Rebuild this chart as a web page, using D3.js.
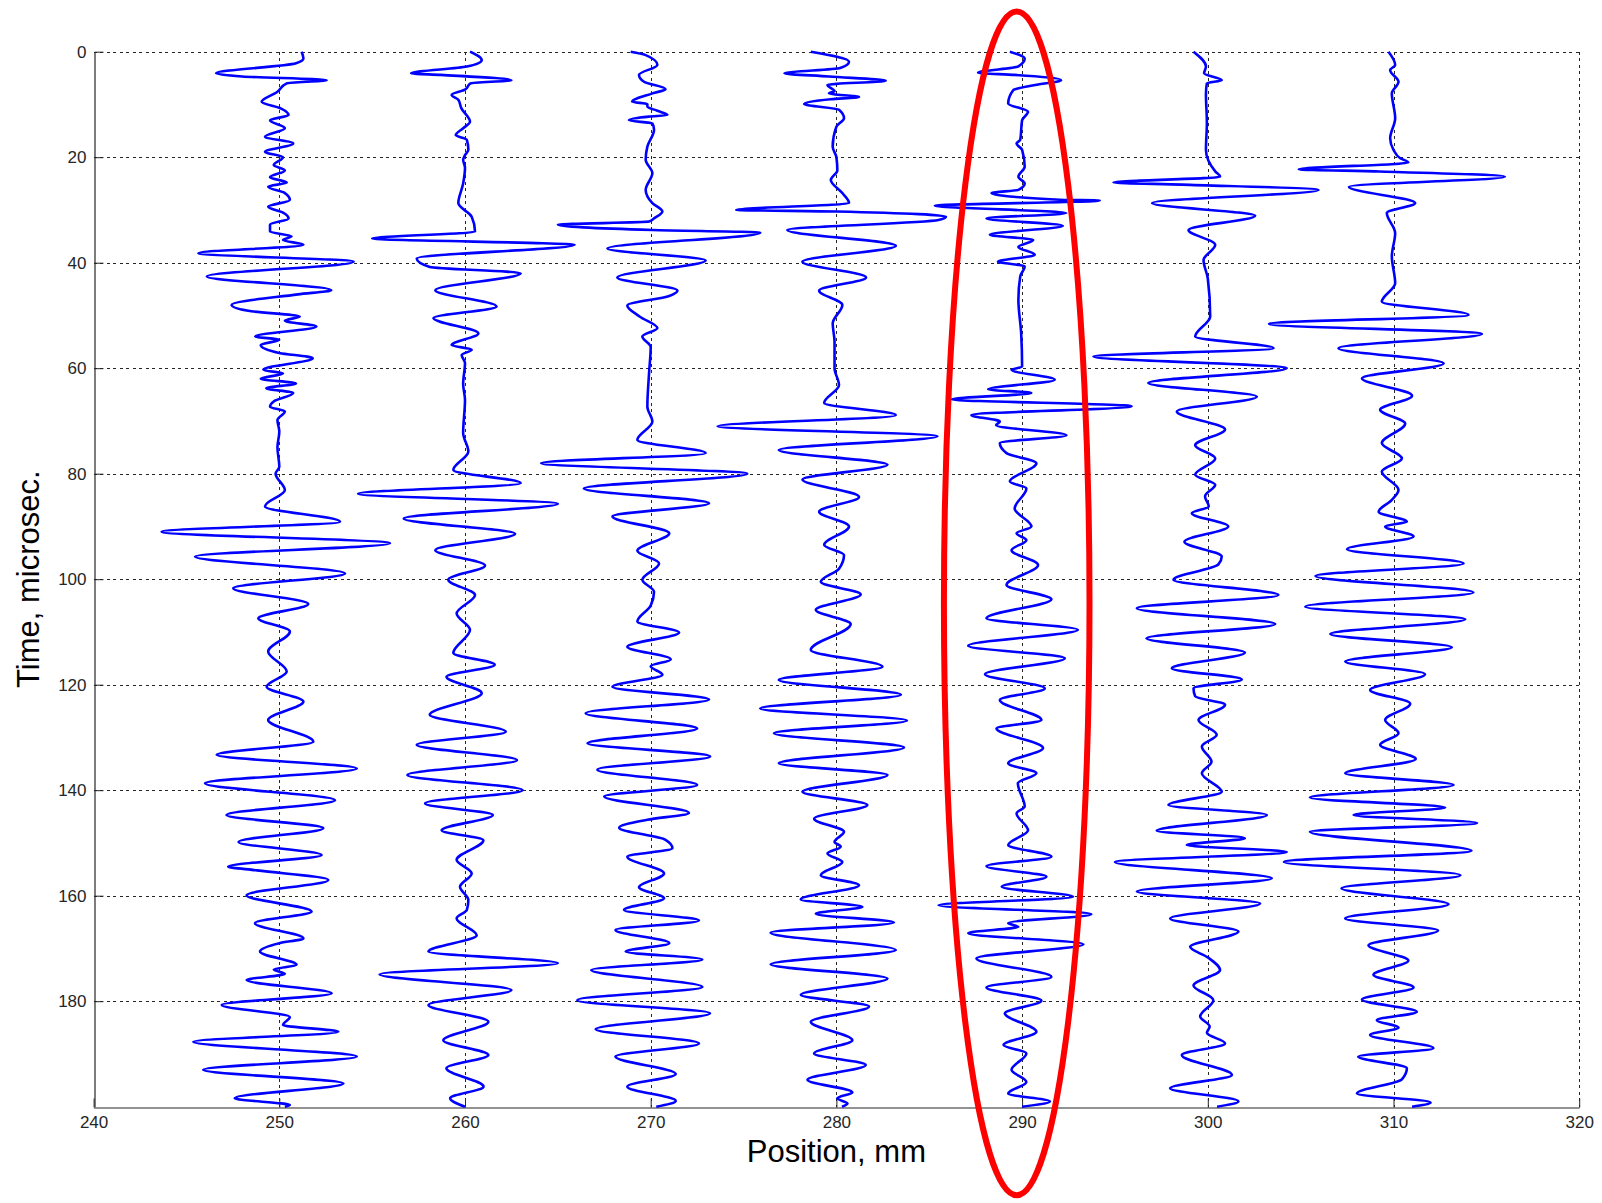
<!DOCTYPE html>
<html>
<head>
<meta charset="utf-8">
<script src="https://cdn.jsdelivr.net/npm/d3@7"></script>
<style>
  html, body { margin: 0; padding: 0; background: #fff; }
  svg { display: block; }
  text { font-family: "Liberation Sans", Arial, sans-serif; }
</style>
</head>
<body>
<svg id="chart" width="1602" height="1203"></svg>
<script>
// ---------- data (time in microseconds, offset in mm from the trace position) ----------
const xTicks = [240, 250, 260, 270, 280, 290, 300, 310, 320];
const yTicks = [0, 20, 40, 60, 80, 100, 120, 140, 160, 180];
const xLabel = "Position, mm";
const yLabel = "Time, microsec.";
const positions = [250, 260, 270, 280, 290, 300, 310];

const trace250 = [[0,1.2],[1.3,1.3],[2.2,0.9],[4.1,-3.4],[4.7,-2.0],[5.4,2.55],[6.0,0.4],[7.6,-0.1],[9.5,-0.95],[10.8,0.1],[12,0.5],[13,-0.5],[14.5,0.3],[16.1,-0.77],[17.4,0.75],[19,-0.77],[20,0.2],[21.5,-0.3],[22.5,0.3],[23.8,-0.5],[24.8,0.4],[25.6,-0.6],[26.8,0.3],[28.1,0.57],[29.4,-0.6],[30.5,0.2],[31.6,0.5],[32.8,-0.5],[34.1,-0.5],[35,0.66],[35.7,0.2],[36.6,1.3],[38.2,-4.36],[39.8,4.0],[42.6,-3.9],[45.2,2.8],[46.0,1.0],[48,-2.57],[49.2,-1.5],[50.2,1.1],[51,0.3],[52.1,2.0],[54,-1.3],[54.6,0],[55.6,-1.0],[57.1,0],[58.1,1.8],[60.3,-0.86],[61,0.2],[62,-1.0],[62.9,0.9],[63.8,-0.7],[64.7,0.75],[66.3,-0.3],[67.3,-0.5],[68.2,0.3],[69.8,-0.1],[72,0],[75,-0.1],[78.7,0],[80,-0.2],[83.1,0.3],[86.2,-0.77],[89.1,3.27],[91,-6.34],[93.2,5.96],[95.7,-4.54],[98.9,3.54],[101.7,-2.48],[104.7,1.56],[107.4,-1.13],[109.9,0.57],[113.7,-0.6],[117.5,0.4],[120.4,-0.68],[123.2,1.3],[126.7,-0.6],[130.8,1.83],[133.3,-3.37],[135.9,4.17],[138.7,-4.0],[141.9,3.0],[144.7,-2.84],[147.2,2.37],[149.8,-2.2],[152.3,2.28],[154.5,-2.75],[155.2,-1.2],[157,2.64],[159.9,-1.76],[163,1.74],[165.2,-1.31],[168.1,1.3],[169,0],[170.6,-1.04],[173.1,0.93],[174,-0.3],[174.8,0.3],[176,-1.76],[178.5,2.82],[180.7,-3.1],[183,0.57],[184.5,0.2],[185.8,3.18],[187.7,-4.63],[190.5,4.17],[193,-4.1],[195.6,3.45],[198.4,-2.4],[199.7,0.57],[200,0.3]];

const trace260 = [[0,0.27],[1.6,0.9],[2.8,0.1],[4.1,-2.9],[4.4,-1.3],[5.4,2.5],[6.0,0.3],[7.2,0],[8.2,-0.72],[9.1,-0.36],[10.7,-0.2],[13.3,0.27],[14.5,-0.1],[15.8,-0.5],[16.7,0.1],[18.6,0.18],[19.6,0],[20.5,-0.1],[22,0],[25,-0.1],[28.7,-0.36],[31.3,0.36],[34.1,0.54],[35.4,-5.0],[36.6,5.9],[39.2,-2.6],[40.8,-1.9],[42,3.0],[45.2,-1.6],[48.3,1.7],[50.5,-1.7],[53.4,0.72],[55.6,-0.72],[56.5,0.36],[57.5,-0.18],[59,0],[63,-0.1],[66,0],[72.3,-0.1],[75.8,0.18],[79.3,-0.63],[81.8,3.0],[83.8,-5.76],[85.7,5.0],[88.5,-3.3],[91.4,2.7],[94.5,-1.6],[97.4,1.08],[100.1,-0.9],[103,0.54],[106.5,-0.45],[109.6,0.27],[114,-0.63],[116.2,1.6],[118.5,-1.0],[121.6,0.9],[125.7,-1.9],[128.9,2.2],[131.4,-2.6],[134.3,2.8],[137.1,-3.1],[140,3.1],[142.5,-2.15],[144.7,1.5],[147.6,-1.26],[149.5,0.99],[153.2,-0.45],[155.8,0.36],[158.3,-0.27],[160.8,0.18],[162.7,0.1],[164.3,-0.45],[167.5,0.63],[170.6,-1.97],[172.8,5.0],[174.9,-4.6],[177.9,2.5],[180.7,-1.97],[183.9,1.26],[187.4,-1.17],[190.2,1.26],[192.7,-1.0],[196.2,1.0],[198.4,-0.8],[200,0]];

const trace270 = [[0,-1.08],[0.6,-0.3],[2.5,0.36],[4.4,-0.63],[5.7,-0.36],[7.1,0.8],[7.9,0.1],[9.5,-1.0],[9.9,-0.18],[10.4,-0.18],[11.2,0.36],[12,0.9],[12.3,-0.1],[13,-1.17],[13.6,0.09],[14.8,0.18],[18,-0.18],[20.5,-0.27],[23,0.09],[26.2,-0.27],[28.7,0.09],[30.3,0.63],[31.6,0.18],[32.2,-0.09],[32.8,-5.0],[33.8,0.09],[34.3,5.9],[37.3,-2.33],[39.6,2.96],[42.8,-1.8],[45.3,1.44],[46.3,1.0],[48.1,-1.26],[50.2,-0.6],[52.4,0.36],[54,-0.45],[56,0],[61,-0.09],[67.3,-0.18],[70.1,0.09],[73.6,-0.72],[76.1,2.96],[78,-5.9],[80,5.2],[82.8,-3.6],[85.6,3.14],[88.1,-2.06],[91.3,1.0],[94.6,-0.72],[97,0.45],[100.1,-0.45],[102.4,0.18],[105,0],[108,-0.72],[110.1,1.53],[112.8,-1.26],[115.2,1.08],[116.5,0],[118.1,0.63],[120.4,-2.06],[122.8,3.14],[125.4,-3.5],[128.3,2.5],[131.1,-3.4],[133.6,3.2],[136.1,-2.87],[139,2.5],[141.2,-2.5],[144.3,2.06],[145.6,-0.18],[147.1,-1.7],[149.4,0.8],[151,1.17],[152.6,-1.26],[155.8,0.72],[158.4,-0.63],[160.5,0.72],[162.7,-1.44],[164.7,2.6],[166.5,-1.9],[169,1.0],[170.6,-1.35],[172.1,2.78],[174.1,-3.2],[177.3,2.78],[179.8,-3.95],[182.3,3.2],[185.3,-2.96],[188,2.6],[190.5,-1.9],[193.8,1.35],[196.2,-1.26],[198.9,1.35],[200,0.3]];

const trace280 = [[0,-1.38],[1.9,0.68],[3.1,0.2],[4.1,-2.8],[4.7,-0.4],[5.5,2.66],[6.3,-0.48],[7.5,-0.1],[7.9,-0.4],[8.6,1.22],[9.0,-0.3],[9.9,-1.74],[11,0.14],[12.6,0.41],[14.2,0],[18,-0.2],[20,0],[22.5,0.05],[24.3,-0.3],[26.8,0.32],[28.7,0.68],[30,-5.4],[30.3,0],[31.3,5.9],[31.9,5.5],[33.8,-2.64],[36.8,3.2],[39.8,-1.83],[42.8,1.6],[45.3,-0.93],[48,0.32],[51.5,-0.2],[55,-0.1],[60,-0.1],[63.2,0.14],[66.6,-0.66],[68.9,3.2],[71,-6.4],[72.9,5.44],[75.5,-3.1],[78.3,2.75],[81.1,-1.83],[84.4,1.22],[87.2,-0.93],[90,0.68],[93.5,-0.66],[95.4,0.41],[98,0.14],[100.5,-0.84],[102.9,1.31],[105.8,-1.11],[108.5,0.77],[113.4,-1.38],[116.6,2.48],[119.1,-3.1],[121.9,3.47],[124.5,-4.1],[126.8,3.8],[129.2,-3.36],[131.9,3.64],[134.9,-3.1],[137.1,2.75],[140.3,-1.83],[142.8,1.67],[145.4,-1.2],[147.9,0.41],[149.8,-0.1],[150.7,0.23],[152,-0.48],[153.6,0.32],[156.1,-0.84],[158,1.22],[160.7,-1.92],[162.1,1.4],[163.4,-1.11],[165.1,3.1],[167,-3.54],[170.3,3.2],[173,-3.54],[175.7,2.75],[178.8,-1.92],[181,1.76],[183.9,-1.38],[187.4,0.86],[189.9,-1.2],[192.1,1.58],[194.9,-1.56],[197.3,0.86],[198.4,0.05],[199.4,0.6],[200,0.3]];

const trace290 = [[0,-0.66],[1.3,0.14],[2.8,-0.2],[4,-2.37],[4.4,-0.4],[5.4,2.1],[6.3,0.7],[7.3,-0.48],[9.8,-0.75],[11.4,0.32],[13,0],[16.7,-0.1],[17.4,-0.3],[18.6,0],[21.8,0.14],[23.7,-0.2],[25,0.14],[26.2,-0.2],[26.8,-1.65],[28.1,2.3],[28.2,4.18],[29.2,-4.7],[30.6,2.39],[31.6,-1.92],[33,2.2],[34.7,-1.74],[35.7,0.6],[37,-0.2],[38.5,0.68],[39.8,-1.3],[40.7,0.14],[42.6,-0.1],[47,-0.2],[53.4,-0.05],[59.7,0],[60.3,-0.57],[62.2,1.76],[64,-1.83],[64.7,0.5],[65.9,-3.8],[67.2,5.9],[68.9,-2.73],[70.1,-1.2],[70.8,-1.4],[72.7,2.39],[74.2,-1.2],[76.1,-0.84],[78,0.77],[81.5,-0.66],[82.8,0.23],[86.6,-0.4],[90,0.5],[91.3,-0.3],[92.6,0.23],[94.5,-0.57],[97.3,0.86],[101.1,-0.84],[103.8,1.58],[107.4,-1.92],[109.6,3.0],[112.6,-2.9],[115,2.3],[118,-2.0],[120.7,1.22],[122.9,-1.2],[126.7,1.04],[128.3,-1.38],[132,1.13],[134.9,-0.75],[136.8,0.77],[138.7,-0.23],[143.1,0.14],[144.4,-0.3],[147.6,0.32],[150.4,-0.75],[152.6,1.58],[154.4,-1.92],[156.4,1.31],[158.3,-1.1],[160.2,2.75],[161.8,-4.5],[163.5,3.73],[165.2,-0.75],[165.9,-0.2],[167.1,-2.9],[169.2,3.3],[171.9,-2.46],[175.4,1.58],[177.4,-1.92],[179.9,1.04],[182.3,-0.93],[185.8,0.77],[188.3,-1.0],[189.9,0.23],[193,-0.57],[195.3,0.23],[197.5,-0.75],[199,1.5],[200,0]];

const trace300 = [[0,-0.77],[2.8,-0.1],[4.1,-0.2],[5.4,0.75],[6,-0.05],[8,-0.1],[13.5,-0.05],[18.6,-0.1],[22.7,0.4],[23.7,0.66],[24.8,-5.08],[25.2,-1.4],[26.2,5.96],[28.7,-3.0],[31.1,2.55],[33.8,-1.04],[36.6,0.4],[39.5,-0.23],[43,0],[50.2,0.13],[54,-0.68],[56.2,3.54],[57.8,-6.16],[60,4.25],[62.8,-3.2],[65.4,2.64],[68.2,-1.67],[71.6,0.93],[74.6,-0.68],[77.1,0.4],[80.2,-0.68],[82.1,0.4],[84.3,-0.15],[86.2,0.05],[87.5,-0.86],[90,1.1],[92.9,-1.26],[95.7,0.75],[97.2,0.57],[100.1,-1.85],[103,3.8],[105.5,-3.82],[108.5,3.63],[111.2,-3.3],[113.9,2.0],[116.9,-1.94],[119,1.83],[120.7,-0.77],[122.2,-0.68],[123.8,0.93],[126.7,-0.5],[129.5,0.48],[131.7,-0.32],[134.6,0.2],[136.8,-0.32],[140.3,0.75],[142.8,-2.12],[144.7,3.18],[147.7,-2.75],[149.1,2.0],[150.4,-1.13],[151.7,4.25],[153.6,-5.0],[156.7,3.45],[159.2,-3.82],[161.5,2.82],[164.3,-2.03],[166.8,1.65],[169.7,-0.95],[171.7,0],[174.1,0.66],[177,-0.77],[179.8,0.3],[182.9,-0.41],[184.8,0.1],[186,-0.05],[188,0.93],[190.2,-1.4],[194,1.3],[196.5,-2.03],[199,1.65],[200,0.5]];

const trace310 = [[0,-0.27],[2.5,0.09],[3.5,-0.18],[5.7,0.27],[7.9,-0.09],[12.6,0.09],[16.4,-0.18],[18.6,0],[20.2,0.36],[21,0.8],[22.3,-5.1],[22.7,-0.8],[23.7,6.0],[25.6,-2.4],[28.7,1.17],[30.6,-0.36],[34.4,0.09],[38.8,-0.09],[43.9,0.09],[47.4,-0.63],[49.9,4.04],[51.6,-6.7],[53.5,4.76],[56.2,-2.96],[59.1,2.7],[61.9,-1.7],[65.2,1.0],[67.9,-0.72],[70.5,0.63],[74.2,-0.63],[77.1,0.45],[79.6,-0.63],[83.1,0.27],[85,-0.1],[87.2,-0.8],[89.1,0.72],[90,-0.45],[91.9,1.08],[94.3,-2.5],[97,3.77],[99.4,-4.2],[102.5,4.3],[105.2,-4.75],[107.6,3.86],[110.4,-3.4],[112.9,3.14],[115.6,-2.6],[118,1.7],[121,-1.26],[123.6,0.9],[126.7,-0.45],[129.2,0.27],[131.4,-0.72],[134.1,1.2],[136.8,-2.6],[139,3.23],[141.4,-4.5],[143.3,2.78],[144.7,-2.15],[146.2,4.5],[147.9,-4.5],[151.5,4.2],[153.6,-5.9],[156.1,3.6],[158.6,-2.8],[161.6,2.96],[164.3,-2.6],[166.6,2.4],[169.4,-1.35],[172.3,0.8],[175,-1.08],[177.4,1.08],[179.7,-1.7],[182,1.26],[183.6,-0.9],[185,0.27],[186.4,-1.26],[188.9,2.15],[190.5,-1.9],[192.7,0.72],[194.8,0.45],[197.5,-1.97],[199.2,2.0],[200,1.0]];

const traces = [trace250, trace260, trace270, trace280, trace290, trace300, trace310];

// highlight ellipse (data units): centre position, centre time, half-width mm, half-height µs
const highlight = { pos: 289.71, time: 104.57, halfPos: 3.92, halfTime: 112.2 };

// ---------- layout ----------
const svg = d3.select("#chart");
const plotLeft = 93.6, plotRight = 1579.2, plotTop = 51.7, plotBottom = 1106.7;
const x = d3.scaleLinear().domain([240, 320]).range([plotLeft, plotRight]);
const y = d3.scaleLinear().domain([0, 200]).range([plotTop, plotBottom]);

// grid (dashed)
const grid = svg.append("g").attr("stroke", "#262626").attr("stroke-width", 1)
  .attr("stroke-dasharray", "3,3.5").attr("shape-rendering", "crispEdges");
grid.selectAll("line.v").data(xTicks.filter(d => d > 240)).join("line").attr("class", "v")
  .attr("x1", d => Math.round(x(d)) + 0.5).attr("x2", d => Math.round(x(d)) + 0.5)
  .attr("y1", plotTop).attr("y2", plotBottom);
grid.selectAll("line.h").data(yTicks).join("line").attr("class", "h")
  .attr("x1", plotLeft).attr("x2", plotRight)
  .attr("y1", d => Math.round(y(d)) + 0.5).attr("y2", d => Math.round(y(d)) + 0.5);

// axes
const xAxis = d3.axisBottom(x).tickValues(xTicks).tickSizeInner(-9).tickSizeOuter(0).tickPadding(8);
const yAxis = d3.axisLeft(y).tickValues(yTicks).tickSizeInner(-9).tickSizeOuter(0).tickPadding(8);
const gx = svg.append("g").attr("transform", `translate(0,${Math.round(plotBottom) + 0.5})`).call(xAxis);
const gy = svg.append("g").attr("transform", `translate(${Math.round(plotLeft) + 0.5},0)`).call(yAxis);
[gx, gy].forEach(g => {
  g.selectAll("path.domain").attr("stroke", "#262626").attr("stroke-width", 1.2);
  g.selectAll(".tick line").attr("stroke", "#262626");
  g.selectAll("text").attr("font-size", 17).attr("fill", "#262626")
    .attr("font-family", "'Liberation Sans', Arial, sans-serif");
});
gx.selectAll("text").attr("dy", "0.71em").attr("y", 8);

// traces
const line = d3.line().x(d => d[0]).y(d => d[1]).curve(d3.curveMonotoneY);
svg.append("g").selectAll("path.trace").data(traces).join("path")
  .attr("class", "trace")
  .attr("d", (tr, i) => line(tr.map(p => [x(positions[i] + p[1]), y(p[0])])))
  .attr("fill", "none").attr("stroke", "#0000ff").attr("stroke-width", 2.6)
  .attr("stroke-linejoin", "round");

// axis labels
svg.append("text").attr("x", (plotLeft + plotRight) / 2).attr("y", 1162)
  .attr("text-anchor", "middle").attr("font-size", 31).attr("fill", "#000").text(xLabel);
svg.append("text").attr("transform", `translate(39,${(plotTop + plotBottom) / 2}) rotate(-90)`)
  .attr("text-anchor", "middle").attr("font-size", 31).attr("fill", "#000").text(yLabel);

// red highlight ellipse
svg.append("ellipse")
  .attr("cx", x(highlight.pos)).attr("cy", y(highlight.time))
  .attr("rx", x(highlight.pos + highlight.halfPos) - x(highlight.pos))
  .attr("ry", y(highlight.time + highlight.halfTime) - y(highlight.time))
  .attr("fill", "none").attr("stroke", "#ff0000").attr("stroke-width", 6);
</script>
</body>
</html>
